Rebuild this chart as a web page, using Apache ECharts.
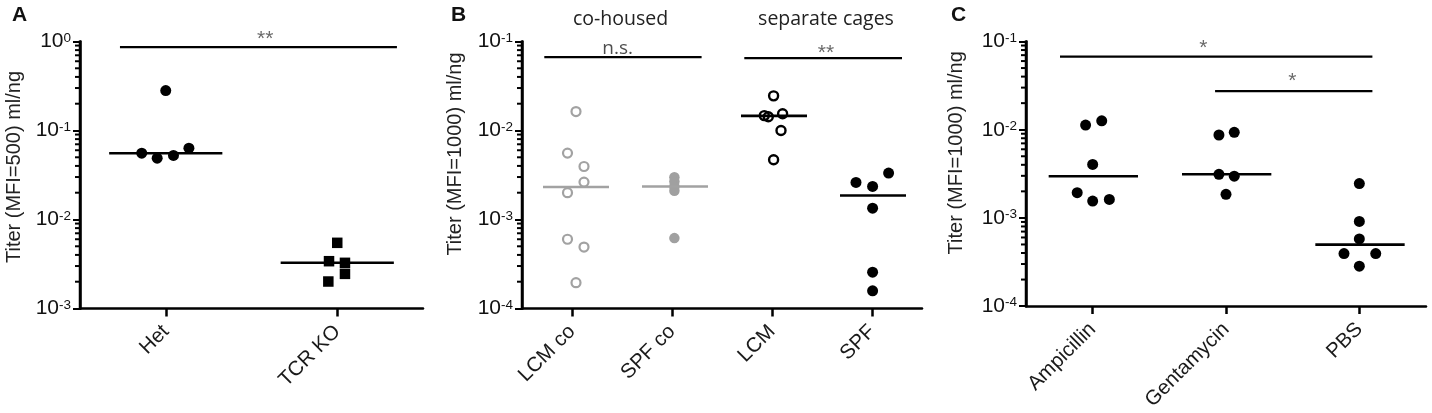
<!DOCTYPE html>
<html><head><meta charset="utf-8">
<script src="https://cdn.jsdelivr.net/npm/echarts@6/dist/echarts.min.js"></script>
<style>html,body{margin:0;padding:0;background:#fff}#c{width:1432px;height:413px}</style>
</head><body><div id="c"></div>
<script>
// ---------------- Panel A ----------------
const aCategories = ['Het', 'TCR KO'];
const aHetValues = [0.281, 0.0556, 0.0489, 0.0524, 0.0633];
const aHetJitter = [0, -0.14, -0.05, 0.045, 0.135];
const aKoValues = [0.00547, 0.0034, 0.00326, 0.00245, 0.00201];
const aKoJitter = [0, -0.048, 0.045, 0.045, -0.052];
const aMedians = [0.0556, 0.00326];
const aRange = [0.001, 1];
const aSigBars = [{from: -0.267, to: 1.348, value: 0.863, text: '**', at: 0.58}];

// ---------------- Panel B ----------------
const bCategories = ['LCM co', 'SPF co', 'LCM', 'SPF'];
const bLcmCoValues = [0.01633, 0.00557, 0.00394, 0.00263, 0.0020, 0.0006, 0.00049, 0.000195];
const bLcmCoJitter = [0.04, -0.045, 0.12, 0.12, -0.045, -0.045, 0.12, 0.04];
const bSpfCoValues = [0.00299, 0.00267, 0.00235, 0.0021, 0.000618];
const bSpfCoJitter = [0.024, 0.024, 0.024, 0.024, 0.024];
const bLcmValues = [0.0245, 0.0147, 0.0143, 0.0154, 0.0100, 0.00469];
const bLcmJitter = [0.016, -0.077, -0.037, 0.106, 0.09, 0.016];
const bSpfValues = [0.00261, 0.00235, 0.00332, 0.00134, 0.000256, 0.000158];
const bSpfJitter = [-0.16, 0.006, 0.166, 0.006, 0.006, 0.006];
const bMedians = [0.00232, 0.00235, 0.0146, 0.00186];
const bRange = [0.0001, 0.1];
const bSigBars = [
  {from: -0.277, to: 1.296, value: 0.0668, text: 'n.s.', at: 0.456},
  {from: 1.723, to: 3.3, value: 0.065, text: '**', at: 2.54}
];
const bHeaders = ['co-housed', 'separate cages'];

// ---------------- Panel C ----------------
const cCategories = ['Ampicillin', 'Gentamycin', 'PBS'];
const cAmpValues = [0.01129, 0.01262, 0.00404, 0.00193, 0.00155, 0.00162];
const cAmpJitter = [-0.053, 0.068, 0, -0.116, 0, 0.125];
const cGentValues = [0.00871, 0.00933, 0.00312, 0.00297, 0.00185];
const cGentJitter = [-0.053, 0.062, -0.053, 0.062, 0];
const cPbsValues = [0.00245, 0.000912, 0.000577, 0.000394, 0.000394, 0.000284];
const cPbsJitter = [0, 0, 0, -0.115, 0.123, 0];
const cMedians = [0.00297, 0.00312, 0.000498];
const cRange = [0.0001, 0.1];
const cSigBars = [
  {from: -0.245, to: 2.098, value: 0.0673, text: '*', at: 0.83},
  {from: 0.918, to: 2.098, value: 0.0274, text: '*', at: 1.498}
];

const yTitles = ['Titer (MFI=500) ml/ng', 'Titer (MFI=1000) ml/ng', 'Titer (MFI=1000) ml/ng'];
const panelLetters = ['A', 'B', 'C'];
const minorMultipliers = [2, 3, 4, 5, 6, 7, 8, 9];

// ---------------- styling ----------------
const FONT = '"Liberation Sans", Arial, sans-serif';
const HFONT = '"Open Sans", "Liberation Sans", sans-serif';
const BLACK = '#000';
const GRAY = '#a2a2a2';
const filledBlack = {symbol: 'circle', symbolSize: 11, itemStyle: {color: BLACK, opacity: 1}};
const squareBlack = {symbol: 'rect', symbolSize: 10.5, itemStyle: {color: BLACK, opacity: 1}};
const openGray = {symbol: 'circle', symbolSize: 9, itemStyle: {color: '#fff', borderColor: GRAY, borderWidth: 2.2, opacity: 1}};
const filledGray = {symbol: 'circle', symbolSize: 10.5, itemStyle: {color: '#a0a0a0', opacity: 1}};
const openBlack = {symbol: 'circle', symbolSize: 9, itemStyle: {color: 'rgba(255,255,255,0)', borderColor: BLACK, borderWidth: 2.4, opacity: 1}};

const panels = [
  {cats: aCategories, range: aRange, sig: aSigBars,
   groups: [
     {values: aHetValues, jitter: aHetJitter, style: filledBlack, median: aMedians[0], span: [-0.33, 0.33], lineColor: BLACK},
     {values: aKoValues, jitter: aKoJitter, style: squareBlack, median: aMedians[1], span: [-0.33, 0.33], lineColor: BLACK}
   ], sigOffsets: [3], gap: 56, shift: 16},
  {cats: bCategories, range: bRange, sig: bSigBars,
   groups: [
     {values: bLcmCoValues, jitter: bLcmCoJitter, style: openGray, median: bMedians[0], span: [-0.29, 0.37], lineColor: GRAY},
     {values: bSpfCoValues, jitter: bSpfCoJitter, style: filledGray, median: bMedians[1], span: [-0.30, 0.36], lineColor: GRAY},
     {values: bLcmValues, jitter: bLcmJitter, style: openBlack, median: bMedians[2], span: [-0.31, 0.35], lineColor: BLACK},
     {values: bSpfValues, jitter: bSpfJitter, style: filledBlack, median: bMedians[3], span: [-0.32, 0.34], lineColor: BLACK}
   ], sigOffsets: [1, 6], gap: 57, shift: 42},
  {cats: cCategories, range: cRange, sig: cSigBars,
   groups: [
     {values: cAmpValues, jitter: cAmpJitter, style: filledBlack, median: cMedians[0], span: [-0.33, 0.34], lineColor: BLACK},
     {values: cGentValues, jitter: cGentJitter, style: filledBlack, median: cMedians[1], span: [-0.33, 0.34], lineColor: BLACK},
     {values: cPbsValues, jitter: cPbsJitter, style: filledBlack, median: cMedians[2], span: [-0.33, 0.34], lineColor: BLACK}
   ], sigOffsets: [2, 1], gap: 60, shift: 42}
];

const gridBoxes = [
  {left: 80, top: 41.5, width: 343, height: 267},
  {left: 522, top: 41.5, width: 400, height: 267},
  {left: 1026, top: 41.5, width: 400, height: 267}
];

const grid = [], xAxis = [], yAxis = [], series = [];

// hidden value x-axis spans [0, n]; category k sits at k + 0.5
panels.forEach((p, i) => {
  grid.push(Object.assign({containLabel: false}, gridBoxes[i]));
  xAxis.push({
    type: 'category', gridIndex: i, data: p.cats, boundaryGap: true,
    axisLine: {show: true, lineStyle: {color: BLACK, width: 2.5}},
    axisTick: {show: true, alignWithLabel: true, length: 8, lineStyle: {color: BLACK, width: 2.5}},
    axisLabel: {rotate: 45, interval: 0, fontSize: 20.5, color: '#1a1a1a', fontFamily: FONT, margin: 20},
    splitLine: {show: false}
  });
  xAxis.push({type: 'value', gridIndex: i, min: 0, max: p.cats.length, show: false});
  yAxis.push({
    type: 'log', logBase: 10, gridIndex: i, min: p.range[0], max: p.range[1],
    axisLine: {show: true, lineStyle: {color: BLACK, width: 2.5}},
    axisTick: {show: true, length: 7, lineStyle: {color: BLACK, width: 2}},
    splitLine: {show: false},
    axisLabel: {
      margin: 9, color: '#111', fontFamily: FONT,
      formatter: v => '{b|10}{s|' + Math.round(Math.log10(v)) + '}',
      rich: {
        b: {fontSize: 21, fontFamily: FONT, color: '#111', lineHeight: 21},
        s: {fontSize: 13.5, fontFamily: FONT, color: '#111', verticalAlign: 'top', lineHeight: 13}
      }
    },
    name: yTitles[i], nameLocation: 'middle', nameRotate: 90, nameGap: p.gap,
    nameTextStyle: {fontSize: 20, color: '#222', fontFamily: FONT, padding: [0, 0, 0, p.shift]}
  });
  const xi = 2 * i + 1;
  // minor ticks (at 2..9 x 10^n), positioned through the axes' scales
  const minorData = [];
  const e0 = Math.round(Math.log10(p.range[0])), e1 = Math.round(Math.log10(p.range[1]));
  for (let e = e0; e < e1; e++) minorMultipliers.forEach(m => minorData.push([0, m * Math.pow(10, e)]));
  series.push({
    type: 'custom', xAxisIndex: xi, yAxisIndex: i, data: minorData, clip: false, silent: true, z: 6,
    renderItem: (params, api) => {
      const pt = api.coord([api.value(0), api.value(1)]);
      return {type: 'line', shape: {x1: pt[0] - 5, y1: pt[1], x2: pt[0], y2: pt[1]}, style: {stroke: BLACK, lineWidth: 2}};
    }
  });
  p.groups.forEach((g, ci) => {
    const c = ci + 0.5;
    series.push(Object.assign({
      type: 'scatter', xAxisIndex: xi, yAxisIndex: i, silent: true, z: 3,
      data: g.values.map((v, k) => [c + g.jitter[k], v])
    }, g.style));
    series.push({
      type: 'line', xAxisIndex: xi, yAxisIndex: i, silent: true, z: 4, symbol: 'none',
      data: [[c + g.span[0], g.median], [c + g.span[1], g.median]],
      lineStyle: {color: g.lineColor, width: 2.6}
    });
  });
  p.sig.forEach((s, k) => {
    series.push({
      type: 'line', xAxisIndex: xi, yAxisIndex: i, silent: true, z: 4, symbol: 'none',
      data: [[s.from + 0.5, s.value], [s.to + 0.5, s.value]],
      lineStyle: {color: BLACK, width: 2.3}
    });
    const isText = s.text === 'n.s.';
    series.push({
      type: 'scatter', xAxisIndex: xi, yAxisIndex: i, silent: true, z: 5, symbolSize: 0,
      data: [{name: s.text, value: [s.at + 0.5, s.value]}],
      label: {show: true, position: 'top', distance: 0, offset: [0, p.sigOffsets[k]], formatter: '{b}',
        fontSize: isText ? 19 : 21, fontFamily: isText ? HFONT : FONT, color: isText ? '#222' : '#444'}
    });
  });
});

const graphic = [
  {type: 'text', x: 12, y: 15.5, style: {text: panelLetters[0], fontSize: 21, fontWeight: 'bold', fontFamily: FONT, fill: '#111', align: 'left', verticalAlign: 'middle'}},
  {type: 'text', x: 451, y: 15.5, style: {text: panelLetters[1], fontSize: 21, fontWeight: 'bold', fontFamily: FONT, fill: '#111', align: 'left', verticalAlign: 'middle'}},
  {type: 'text', x: 951, y: 15.5, style: {text: panelLetters[2], fontSize: 21, fontWeight: 'bold', fontFamily: FONT, fill: '#111', align: 'left', verticalAlign: 'middle'}},
  {type: 'text', x: 620.5, y: 19, style: {text: bHeaders[0], fontSize: 19.5, fontFamily: HFONT, fill: '#222', align: 'center', verticalAlign: 'middle'}},
  {type: 'text', x: 826, y: 19, style: {text: bHeaders[1], fontSize: 19.5, fontFamily: HFONT, fill: '#222', align: 'center', verticalAlign: 'middle'}}
];

const chart = echarts.init(document.getElementById('c'), null, {renderer: 'canvas'});
chart.setOption({animation: false, backgroundColor: '#fff', grid, xAxis, yAxis, series, graphic});

// y-axis spines: endpoints converted from data space by the chart's own scales
const spines = panels.map((p, i) => {
  const finder = {xAxisIndex: 2 * i + 1, yAxisIndex: i};
  const lo = chart.convertToPixel(finder, [0, p.range[0]]);
  const hi = chart.convertToPixel(finder, [0, p.range[1]]);
  return {type: 'line', z: 100, silent: true,
    shape: {x1: lo[0], y1: lo[1] + 1.2, x2: hi[0], y2: hi[1] - 1},
    style: {stroke: BLACK, lineWidth: 2.5}};
});
chart.setOption({graphic: graphic.concat(spines)});
</script></body></html>
